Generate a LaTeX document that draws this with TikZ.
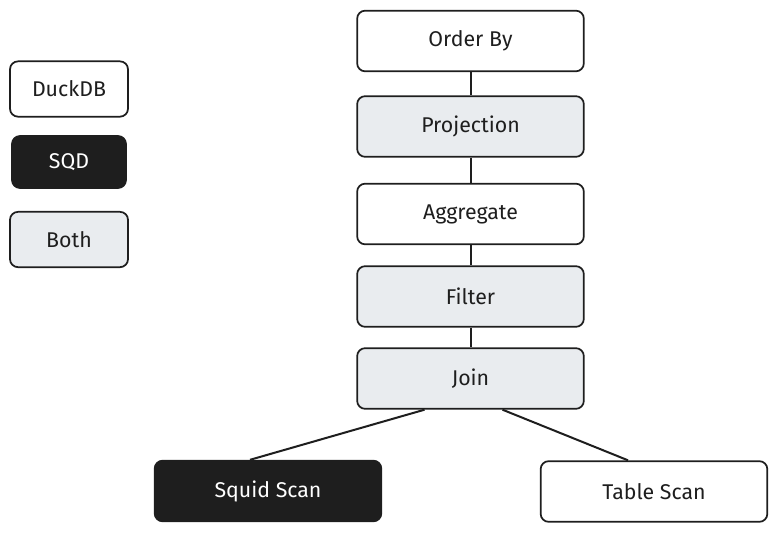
\documentclass[tikz,border=0pt]{standalone}
\usepackage{fontspec}
\setmainfont{Fira Sans}
\usetikzlibrary{calc,positioning}
\definecolor{ink}{HTML}{1E1E1E}
\definecolor{bothgray}{HTML}{E9ECEF}

\begin{document}
\begin{tikzpicture}[x=0.75pt,y=-0.75pt,
    op/.style={draw=ink,line width=1.3pt,rounded corners=6pt,minimum width=170pt,minimum height=45.5pt,
      font=\fontsize{16}{19}\selectfont,text=ink,fill=white},
    duck/.style={op},
    sqd/.style={op,fill=ink,text=white},
    both/.style={op,fill=bothgray},
    key/.style={minimum width=88.5pt,minimum height=41.5pt},
    link/.style={draw=ink,line width=1.5pt}]
  \useasboundingbox (0,0) rectangle (777,532);

  % legend
  \node[duck,key] (kduck) at (69,89) {DuckDB};
  \node[sqd,key,minimum width=85.5pt,minimum height=39pt] (ksqd) at (69,162) {SQD};
  \node[both,key] (kboth) at (69,239.5) {Both};

  % plan
  \node[duck] (order) at (470.5,41) {Order By};
  \node[both] (proj) at (470.5,126.5) {Projection};
  \node[duck] (agg) at (470.5,214) {Aggregate};
  \node[both] (filter) at (470.5,296.5) {Filter};
  \node[both] (join) at (470.5,378.5) {Join};
  \node[sqd] (squid) at (268,491) {Squid Scan};
  \node[duck] (table) at (654,491.5) {Table Scan};

  \draw[link] (order.south) -- (proj.north);
  \draw[link] (proj.south) -- (agg.north);
  \draw[link] (agg.south) -- (filter.north);
  \draw[link] (filter.south) -- (join.north);
  \draw[link] ($(join.south)+(-46,0)$) -- ($(squid.north)+(-18,0)$);
  \draw[link] ($(join.south)+(32,0)$) -- ($(table.north)+(-26,0)$);
\end{tikzpicture}
\end{document}
